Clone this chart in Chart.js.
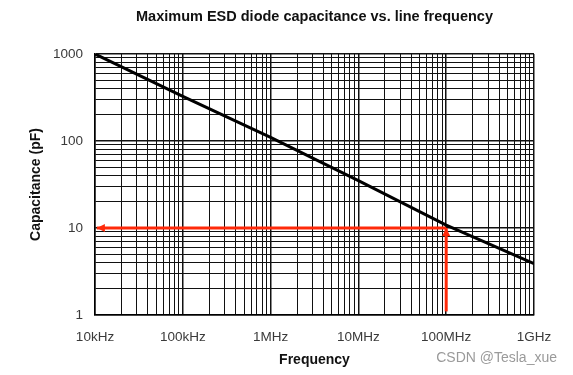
<!DOCTYPE html>
<html>
<head>
<meta charset="utf-8">
<script src="https://cdn.jsdelivr.net/npm/chart.js@4.4.1/dist/chart.umd.min.js"></script>
<style>
  html, body { margin: 0; padding: 0; background: #fff; }
  #wrap { width: 573px; height: 375px; }
</style>
</head>
<body>
<div id="wrap"><canvas id="myChart" width="573" height="375"></canvas></div>
<script>
// frequency (Hz) vs max capacitance (pF)
const frequencias = [1e4, 1e5, 1e6, 1e7, 1e8, 1e9];
const capacitancias = [1000, 325, 110, 35, 10.8, 3.9];

// red marker: up from 1 pF at 100 MHz, then left at 10 pF
const marcaVerticalX = [1e8, 1e8];
const marcaVerticalY = [1.1, 10];
const marcaHorizontalX = [1e8, 1.05e4];
const marcaHorizontalY = [10, 10];

const xTickValores = [1e4, 1e5, 1e6, 1e7, 1e8, 1e9];
const xTickEtiquetas = ["10kHz", "100kHz", "1MHz", "10MHz", "100MHz", "1GHz"];
const yTickValores = [1, 10, 100, 1000];
const yTickEtiquetas = ["1", "10", "100", "1000"];

const ROJO = "#ff2a0a";

function toPoints(xs, ys) {
  return xs.map((x, i) => ({ x: x, y: ys[i] }));
}

// ticks at 1..9 of every decade so the grid looks like log paper
function logTicks(min, max) {
  const ticks = [];
  for (let e = Math.round(Math.log10(min)); e < Math.round(Math.log10(max)); e++) {
    for (let m = 1; m <= 9; m++) ticks.push({ value: m * Math.pow(10, e) });
  }
  ticks.push({ value: max });
  return ticks;
}

function esDecada(v) {
  const l = Math.log10(v);
  return Math.abs(l - Math.round(l)) < 1e-9;
}

function etiqueta(valores, etiquetas, v) {
  for (let i = 0; i < valores.length; i++) {
    if (Math.abs(valores[i] - v) / valores[i] < 1e-9) return etiquetas[i];
  }
  return "";
}

function flecha(ctx, x1, y1, x2, y2) {
  const ang = Math.atan2(y2 - y1, x2 - x1);
  const len = 8, w = 4;
  ctx.beginPath();
  ctx.moveTo(x2, y2);
  ctx.lineTo(x2 - len * Math.cos(ang) + w * Math.sin(ang), y2 - len * Math.sin(ang) - w * Math.cos(ang));
  ctx.lineTo(x2 - len * Math.cos(ang) - w * Math.sin(ang), y2 - len * Math.sin(ang) + w * Math.cos(ang));
  ctx.closePath();
  ctx.fill();
}

const extras = {
  id: "extras",
  afterDatasetsDraw(chart) {
    const ctx = chart.ctx;
    const xs = chart.scales.x, ys = chart.scales.y;
    ctx.save();
    ctx.fillStyle = ROJO;
    flecha(ctx,
      xs.getPixelForValue(marcaVerticalX[0]), ys.getPixelForValue(marcaVerticalY[0]),
      xs.getPixelForValue(marcaVerticalX[1]), ys.getPixelForValue(marcaVerticalY[1]));
    flecha(ctx,
      xs.getPixelForValue(marcaHorizontalX[0]), ys.getPixelForValue(marcaHorizontalY[0]),
      xs.getPixelForValue(marcaHorizontalX[1]), ys.getPixelForValue(marcaHorizontalY[1]));
    ctx.restore();
  },
  afterDraw(chart) {
    const ctx = chart.ctx;
    ctx.save();
    ctx.font = "14px 'Liberation Sans', Arial, sans-serif";
    ctx.fillStyle = "#9a9a9a";
    ctx.textAlign = "right";
    ctx.textBaseline = "middle";
    ctx.fillText("CSDN @Tesla_xue", 557, 358);
    ctx.restore();
  },
};

Chart.defaults.font.family = "'Liberation Sans', Arial, sans-serif";
Chart.defaults.color = "#3a3a3a";

const ctx = document.getElementById("myChart").getContext("2d");
new Chart(ctx, {
  type: "scatter",
  data: {
    datasets: [
      {
        data: toPoints(frequencias, capacitancias),
        showLine: true,
        borderColor: "#000",
        borderWidth: 3,
        pointRadius: 0,
        tension: 0,
      },
      {
        data: toPoints(marcaVerticalX, marcaVerticalY),
        showLine: true,
        borderColor: ROJO,
        borderWidth: 3,
        pointRadius: 0,
      },
      {
        data: toPoints(marcaHorizontalX, marcaHorizontalY),
        showLine: true,
        borderColor: ROJO,
        borderWidth: 3,
        pointRadius: 0,
      },
    ],
  },
  options: {
    responsive: false,
    animation: false,
    layout: { padding: { left: 0, right: 39, top: 0, bottom: 0 } },
    plugins: {
      legend: { display: false },
      tooltip: { enabled: false },
      title: {
        display: true,
        fullSize: false,
        text: "Maximum ESD diode capacitance vs. line frequency",
        color: "#111",
        font: { size: 14.5, weight: "bold" },
        padding: { top: 8, bottom: 28.6 },
      },
    },
    scales: {
      x: {
        type: "logarithmic",
        min: 1e4,
        max: 1e9,
        afterBuildTicks: (scale) => { scale.ticks = logTicks(1e4, 1e9); },
        afterFit: (scale) => { scale.height = 60; },
        grid: {
          color: "#111",
          lineWidth: (c) => (c.tick && esDecada(c.tick.value) ? 1.5 : 1),
          drawTicks: false,
        },
        border: { color: "#000", width: 1.5 },
        ticks: {
          autoSkip: false,
          maxRotation: 0,
          padding: 14,
          font: { size: 13.5 },
          callback: (v) => etiqueta(xTickValores, xTickEtiquetas, v),
        },
        title: {
          display: true,
          text: "Frequency",
          color: "#111",
          font: { size: 14, weight: "bold" },
          padding: { top: 0, bottom: 6 },
        },
      },
      y: {
        type: "logarithmic",
        min: 1,
        max: 1000,
        afterBuildTicks: (scale) => { scale.ticks = logTicks(1, 1000); },
        afterFit: (scale) => { scale.width = 95; },
        grid: {
          color: "#111",
          lineWidth: (c) => (c.tick && esDecada(c.tick.value) ? 1.5 : 1),
          drawTicks: false,
        },
        border: { color: "#000", width: 1.5 },
        ticks: {
          autoSkip: false,
          padding: 12,
          font: { size: 13.5 },
          callback: (v) => etiqueta(yTickValores, yTickEtiquetas, v),
        },
        title: {
          display: true,
          text: "Capacitance (pF)",
          color: "#111",
          font: { size: 14, weight: "bold" },
          padding: { top: 28, bottom: 0 },
        },
      },
    },
  },
  plugins: [extras],
});
</script>
</body>
</html>
